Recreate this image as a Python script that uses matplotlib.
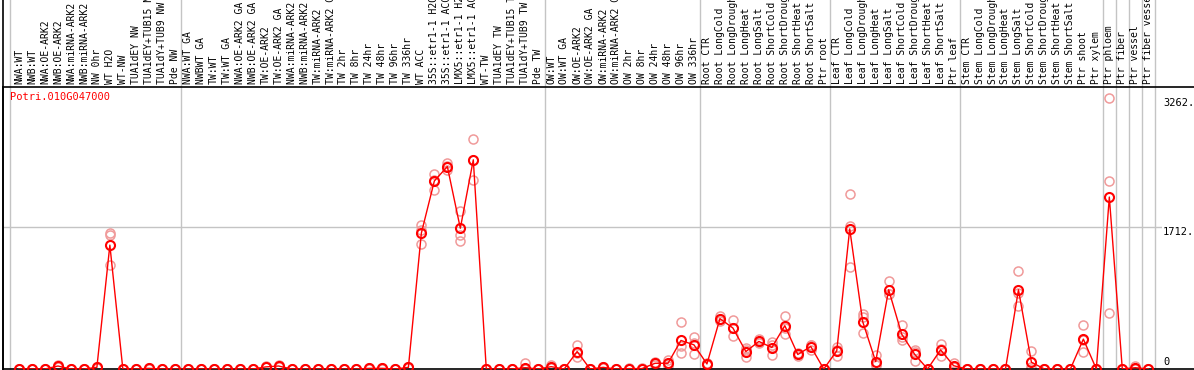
"""Expression profile of Potri.010G047000 across samples."""
import matplotlib
matplotlib.use("Agg")
import matplotlib.pyplot as plt
import matplotlib.transforms as mtransforms
from matplotlib.lines import Line2D

# ── Data ──────────────────────────────────────────────────────────
GENE = "Potri.010G047000"

samples = [
    "NWA:WT", "NWB:WT", "NWA:OE-ARK2", "NWB:OE-ARK2", "NWA:miRNA-ARK2",
    "NWB:miRNA-ARK2", "NW 0hr", "WT H2O", "WT-NW", "TUA1dEY NW",
    "TUA1dEY+TUB15 NW", "TUA1dY+TUB9 NW", "Pde NW",
    "NWA:WT GA", "NWBWT GA", "TW:WT", "TW:WT GA", "NWA:OE-ARK2 GA",
    "NWB:OE-ARK2 GA", "TW:OE-ARK2", "TW:OE-ARK2 GA", "NWA:miRNA-ARK2 GA",
    "NWB:miRNA-ARK2 GA", "TW:miRNA-ARK2", "TW:miRNA-ARK2 GA", "TW 2hr",
    "TW 8hr", "TW 24hr", "TW 48hr", "TW 96hr", "TW 336hr", "WT ACC",
    "35S::etr1-1 H2O", "35S::etr1-1 ACC", "LMX5::etr1-1 H2O",
    "LMX5::etr1-1 ACC", "WT-TW", "TUA1dEY TW", "TUA1dEY+TUB15 TW",
    "TUA1dY+TUB9 TW", "Pde TW",
    "OW:WT", "OW:WT GA", "OW:OE-ARK2", "OW:OE-ARK2 GA", "OW:miRNA-ARK2",
    "OW:miRNA-ARK2 GA", "OW 2hr", "OW 8hr", "OW 24hr", "OW 48hr", "OW 96hr",
    "OW 336hr",
    "Root CTR", "Root LongCold", "Root LongDrought", "Root LongHeat",
    "Root LongSalt", "Root ShortCold", "Root ShortDrought", "Root ShortHeat",
    "Root ShortSalt", "Ptr root",
    "Leaf CTR", "Leaf LongCold", "Leaf LongDrought", "Leaf LongHeat",
    "Leaf LongSalt", "Leaf ShortCold", "Leaf ShortDrought", "Leaf ShortHeat",
    "Leaf ShortSalt", "Ptr leaf",
    "Stem CTR", "Stem LongCold", "Stem LongDrought", "Stem LongHeat",
    "Stem LongSalt", "Stem ShortCold", "Stem ShortDrought", "Stem ShortHeat",
    "Stem ShortSalt", "Ptr shoot", "Ptr xylem",
    "Ptr phloem", "Ptr fiber", "Ptr vessel", "Ptr fiber vessel",
]

mean_expr = [
    0, 0, 0, 36, 0, 0, 20, 1493, 0, 0, 8, 0, 0,
    0, 0, 0, 0, 0, 0, 25, 36, 0, 0, 0, 0, 0, 0, 8, 8, 0, 20,
    1639, 2266, 2440, 1696, 2521, 0, 0, 0, 16, 0,
    28, 0, 210, 0, 20, 0, 5, 5, 69, 69, 344, 291,
    61, 607, 494, 210, 332, 259, 522, 175, 271, 0,
    218, 1688, 571, 89, 955, 421, 178, 0, 231, 40,
    0, 0, 0, 0, 955, 81, 0, 0, 0, 360, 0,
    2072, 0, 16, 0,
]

rep1 = [
    0, 0, 0, 50, 0, 0, 30, 1639, 0, 0, 10, 0, 0,
    0, 0, 0, 0, 0, 0, 35, 45, 0, 0, 0, 0, 0, 0, 10, 10, 0, 30,
    1736, 2355, 2477, 1902, 2768, 0, 0, 0, 76, 0,
    48, 0, 291, 0, 30, 0, 8, 8, 89, 109, 567, 385,
    70, 635, 595, 259, 360, 320, 643, 190, 291, 0,
    271, 2108, 668, 170, 1065, 534, 231, 0, 300, 69,
    0, 0, 0, 0, 1186, 218, 0, 0, 0, 534, 0,
    3262, 0, 36, 0,
]
rep2 = [
    0, 0, 0, 30, 0, 0, 15, 1615, 0, 0, 8, 0, 0,
    0, 0, 0, 0, 0, 0, 20, 30, 0, 0, 0, 0, 0, 0, 8, 8, 0, 20,
    1676, 2282, 2450, 1618, 2513, 0, 0, 0, 0, 0,
    20, 0, 190, 0, 20, 0, 5, 5, 69, 60, 279, 310,
    60, 607, 490, 230, 320, 290, 500, 175, 291, 0,
    225, 1720, 627, 49, 902, 389, 205, 0, 235, 30,
    0, 0, 0, 0, 910, 25, 0, 0, 0, 345, 0,
    2266, 0, 10, 0,
]
rep3 = [
    0, 0, 0, 28, 0, 0, 15, 1250, 0, 0, 6, 0, 0,
    0, 0, 0, 0, 0, 0, 20, 33, 0, 0, 0, 0, 0, 0, 6, 6, 0, 10,
    1505, 2161, 2395, 1546, 2282, 0, 0, 0, 0, 0,
    16, 0, 150, 0, 10, 0, 2, 2, 50, 40, 190, 178,
    50, 580, 400, 142, 316, 170, 421, 160, 231, 0,
    158, 1235, 433, 49, 900, 344, 97, 0, 158, 20,
    0, 0, 0, 0, 756, 0, 0, 0, 0, 202, 0,
    676, 0, 0, 0,
]

ytick_values = [3262, 1712, 0]
group_breaks = [-0.7, 12.5, 40.5, 52.5, 62.5, 72.5, 83.5, 84.5, 85.5, 86.5, 87.5]

# ── Layout (pixels of a 1194x370 canvas) ──────────────────────────
W, H = 1194, 370
X0, DX = 19, 12.98          # pixel of first sample, spacing
AX_TOP, AX_BOT = 87, 369    # plot area in pixels from top
Y_MAX_PX = 98.3             # pixel row of the 3262 value

MONO  = "DejaVu Sans Mono"
RED   = "#ff0000"
PINK  = "#f09a9a"
GRID  = "#c4c4c4"

fig = plt.figure(figsize=(W / 100, H / 100), dpi=100)
ax = fig.add_axes([3 / W, (H - AX_BOT) / H, (W - 3) / W, (AX_BOT - AX_TOP) / H])

x = list(range(len(samples)))
ax.set_xlim((3 - X0) / DX, (W - X0) / DX)
ax.set_ylim(0, 3262 * (AX_BOT - AX_TOP) / (AX_BOT - Y_MAX_PX))

# grid: vertical group separators run up through the label strip
top_frac = AX_BOT / (AX_BOT - AX_TOP)
trans = mtransforms.blended_transform_factory(ax.transData, ax.transAxes)
for b in group_breaks:
    ax.add_line(Line2D([b, b], [0, top_frac], transform=trans, color=GRID,
                       lw=1.0, clip_on=False, zorder=0))
ax.axhline(1712, color=GRID, lw=1.0, zorder=0)

# replicates, then mean line with markers
for rep in (rep1, rep2, rep3):
    ax.plot(x, rep, ls="none", marker="o", ms=6.5, mfc="none",
            mec=PINK, mew=1.1, clip_on=True, zorder=2)
ax.plot(x, mean_expr, color=RED, lw=1.0, zorder=3)
ax.plot(x, mean_expr, ls="none", marker="o", ms=6.5, mfc="none",
        mec=RED, mew=1.5, zorder=4)

# frame
ax.spines["right"].set_visible(False)
for side in ("left", "top", "bottom"):
    ax.spines[side].set_color("black")
    ax.spines[side].set_linewidth(1.2)
fig.add_artist(Line2D([3 / W, 3 / W], [0, 1], color="black", lw=1.2))
ax.set_xticks([])
ax.set_yticks([])

# sample labels above the plot (long ones run off the top, as in the source)
lab_y = (AX_BOT - 84) / (AX_BOT - AX_TOP)
for i, name in enumerate(samples):
    ax.text(i, lab_y, name, rotation=90, ha="center", va="bottom",
            family=MONO, fontsize=7, transform=trans, clip_on=False)

# value labels on the right
xlab = (1163 - X0) / DX
for v in ytick_values:
    if v == 0:
        ax.text(xlab, 25, "0", ha="left", va="bottom", family=MONO, fontsize=7.5)
    else:
        ax.text(xlab, v, f"{v}.", ha="left", va="top", family=MONO, fontsize=7.5,
                bbox=dict(facecolor="white", edgecolor="none", pad=0.5))

fig.text(10 / W, 1 - 97 / H, GENE, color=RED, family=MONO, fontsize=7.5,
         ha="left", va="center")

fig.savefig("out.png", dpi=100)
